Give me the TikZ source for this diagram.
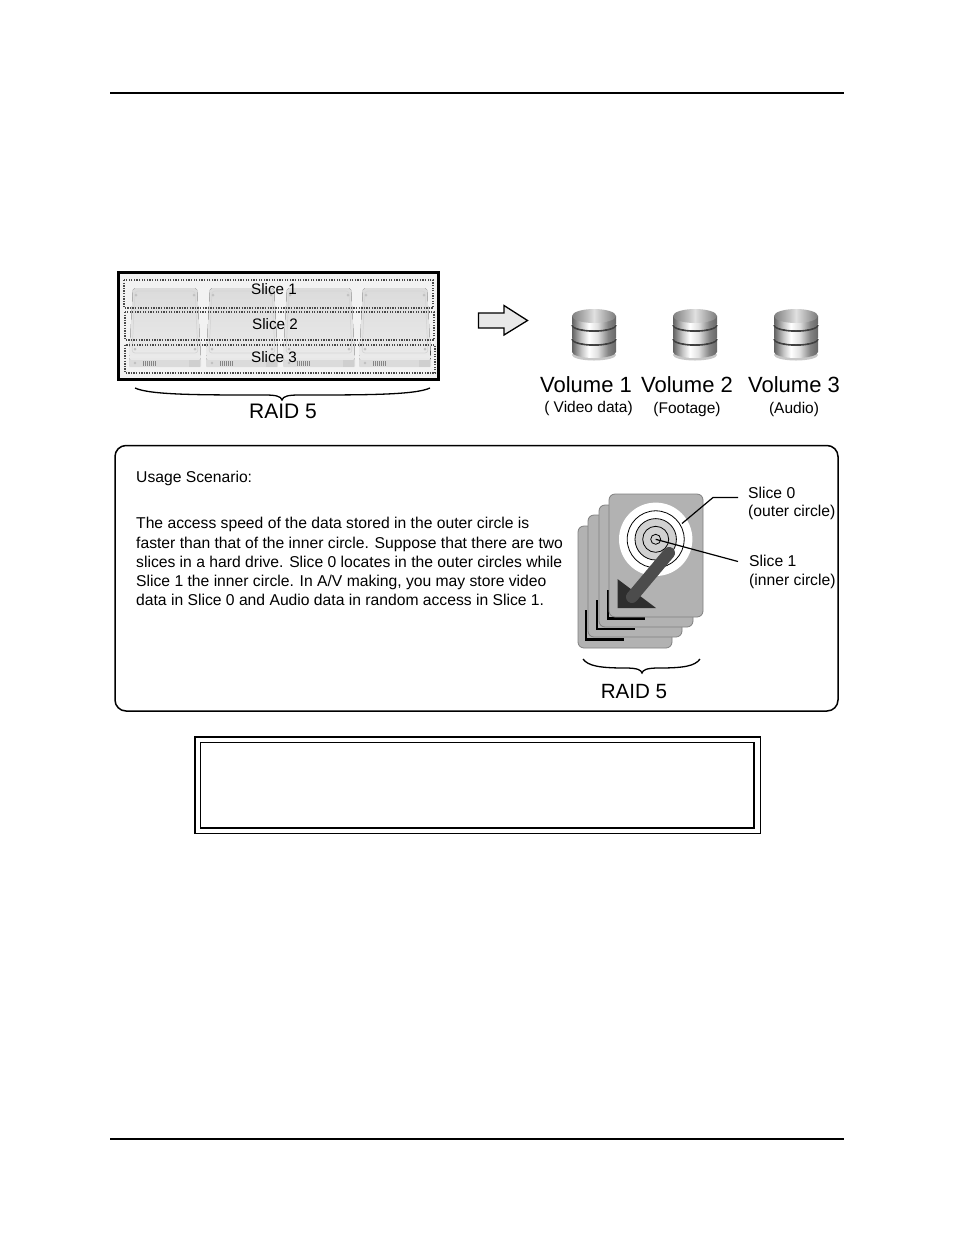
\documentclass[tikz,border=0pt]{standalone}
\usepackage{fontspec}
\setmainfont{Liberation Sans}
\usetikzlibrary{decorations.pathreplacing}
\definecolor{diskgray}{HTML}{B2B2B2}
\definecolor{panelgray}{HTML}{F2F2F2}
\pgfdeclarehorizontalshading{metal}{100bp}{color(0bp)=(black!62); color(25bp)=(black!62); color(36bp)=(black!22); color(44bp)=(white); color(54bp)=(black!12); color(66bp)=(black!48); color(75bp)=(black!60); color(100bp)=(black!60)}
\pgfdeclarehorizontalshading{metaltop}{100bp}{color(0bp)=(black!50); color(25bp)=(black!50); color(42bp)=(black!25); color(50bp)=(black!12); color(60bp)=(black!28); color(75bp)=(black!52); color(100bp)=(black!52)}
\tikzset{
  txt/.style={inner sep=0pt,anchor=base west,font=\fontsize{15.68}{18}\selectfont},
  lbl/.style={inner sep=0pt,anchor=base west,font=\fontsize{15.7}{17}\selectfont},
  vol/.style={inner sep=0pt,anchor=base,font=\fontsize{22}{24}\selectfont},
  sub/.style={inner sep=0pt,anchor=base,font=\fontsize{15.5}{17}\selectfont},
  slice/.style={inner sep=0pt,anchor=base,font=\fontsize{15.2}{18}\selectfont},
  raid/.style={inner sep=0pt,anchor=base,font=\fontsize{21}{24}\selectfont},
  dots/.style={draw=black!72,line width=1.5pt,dash pattern=on 1.3pt off 1.3pt},
  card/.style={draw=black!50,line width=.8pt,fill=diskgray,rounded corners=6pt},
  bracket/.style={draw=black,line width=1.3pt},
  ell/.style={line width=2.4pt,line join=miter},
  ring/.style={line width=.8pt}
}
\newcommand{\drive}[1]{%
  \fill[top color=black!14,bottom color=black!8,rounded corners=2pt] (#1+4,288) -- (#1+68,288) -- (#1+72,360) -- (#1,360) -- cycle;
  \draw[black!16,line width=.7pt,rounded corners=3pt] (#1+6,291) -- (#1+66,291) -- (#1+69,353) -- (#1+3,353) -- cycle;
  \fill[black!14,rounded corners=1pt] (#1,359) rectangle (#1+72,367);
  \fill[black!9] (#1+2,358) rectangle (#1+70,360);
  \fill[black!19] (#1+60,360) rectangle (#1+71,367);
  \foreach \q in {14,16,18,20,22,24,26}{\draw[black!48,line width=.6pt] (#1+\q,361) -- (#1+\q,365.5);}
  \fill[black!25] (#1+6,363) circle (1.3);
  \foreach \p/\r in {7/295,65/295,6/349,66/349}{\fill[black!24] (#1+\p,\r) circle (1.5);}
}
\newcommand{\cyl}[1]{%
  \fill[black!22] (#1,355) ellipse (22 and 5.5);
  \shade[shading=metal] (#1-22,339) -- (#1-22,352) arc (180:0:22 and 6) -- (#1+22,339) -- cycle;
  \draw[black!75,line width=1.8pt] (#1-22,339) arc (180:0:22 and 6);
  \shade[shading=metal] (#1-22,325) -- (#1-22,338) arc (180:0:22 and 6) -- (#1+22,325) -- cycle;
  \draw[black!75,line width=1.8pt] (#1-22,325) arc (180:0:22 and 6);
  \shade[shading=metal] (#1-22,316) -- (#1-22,324) arc (180:0:22 and 6) -- (#1+22,316) -- cycle;
  \shade[shading=metaltop] (#1,316) ellipse (22 and 7);
}
\begin{document}
\begin{tikzpicture}[x=1pt,y=-1pt]
\useasboundingbox (0,0) rectangle (954,1235);
\fill[white] (0,0) rectangle (954,1235);
% page rules
\coordinate (ruleTopL) at (110,93); \coordinate (ruleTopR) at (844,93);
\coordinate (ruleBotL) at (110,1139); \coordinate (ruleBotR) at (844,1139);
\draw[line width=1.8pt] (ruleTopL) -- (ruleTopR);
\draw[line width=1.8pt] (ruleBotL) -- (ruleBotR);
% RAID panel
\fill[panelgray] (120,274) rectangle (437,378);
\drive{129}\drive{206}\drive{283}\drive{359}
\draw[line width=2.4pt] (118.5,272.5) rectangle (438.5,379.5);
\draw[dots] (124,280) rectangle (433,308);
\draw[dots] (125,312) rectangle (434,340);
\draw[dots] (125,345) rectangle (435,373);
\node[slice] (s1) at (274,294.5) {Slice 1};
\node[slice] (s2) at (275,329.5) {Slice 2};
\node[slice] (s3) at (274,362) {Slice 3};
% brace
\draw[bracket] (135,388) .. controls (150,395) and (200,395) .. (265,395) .. controls (275,395) and (281,396) .. (282,400) .. controls (283,396) and (289,395) .. (299,395) .. controls (365,395) and (415,395) .. (430,388);
\node[raid] (r1) at (283,418) {RAID 5};
% arrow
\draw[fill=black!9,line width=1.3pt,line join=miter] (478.5,313) -- (504,313) -- (504,305.5) -- (527.5,320.5) -- (504,335) -- (504,328) -- (478.5,328) -- cycle;
% cylinders
\cyl{594}\cyl{695}\cyl{796}
\node[vol] (v1) at (586,392) {Volume 1};
\node[vol] (v2) at (687,392) {Volume 2};
\node[vol] (v3) at (794,392) {Volume 3};
\node[sub] (d1) at (588.5,412.5) {( Video data)};
\node[sub] (d2) at (687,413.5) {(Footage)};
\node[sub] (d3) at (794,413.5) {(Audio)};
% scenario panel
\draw[line width=1.5pt,rounded corners=11pt] (115,445.5) rectangle (838,711);
\node[txt] (t0) at (136,482) {Usage Scenario:};
\node[txt] (t1) at (136,528.5) {The access speed of the data stored in the outer circle is};
\node[txt] (t2) at (136,548) {faster than that of the inner circle. Suppose that there are two};
\node[txt] (t3) at (136,567) {slices in a hard drive. Slice 0 locates in the outer circles while};
\node[txt] (t4) at (136,586) {Slice 1 the inner circle. In A/V making, you may store video};
\node[txt] (t5) at (136,605) {data in Slice 0 and Audio data in random access in Slice 1.};
% disks
\draw[card] (578,526) rectangle (672,648);
\draw[ell] (586,610) -- (586,639.5) -- (624,639.5);
\draw[card] (588,515) rectangle (682,637);
\draw[ell] (597,600) -- (597,629) -- (635,629);
\draw[card] (599,505) rectangle (693,627);
\draw[ell] (608,590) -- (608,618.5) -- (645,618.5);
\draw[card] (609,494) rectangle (703,617);
\fill[white] (655.7,539.3) circle (36.7);
\fill[black!18] (655.7,539.3) circle (20.7);
\draw[ring] (655.7,539.3) circle (28.5);
\draw[ring] (655.7,539.3) circle (20.7);
\draw[ring] (655.7,539.3) circle (13);
\draw[ring] (655.7,539.3) circle (5);
\fill[black!82] (617.5,579) -- (656,608) -- (617.5,608) -- cycle;
\draw[black!70,line width=12pt,line cap=round] (632,597) -- (669,553);
\coordinate (hub) at (655.7,539.3);
\coordinate (s0a) at (682,523.5);
\coordinate (s0b) at (713,497.5);
\coordinate (s0c) at (738,497.5);
\coordinate (s1c) at (738,561.5);
\draw[line width=1.2pt] (s0a) -- (s0b) -- (s0c);
\draw[line width=1.2pt] (hub) -- (s1c);
\node[lbl] (l0) at (748,498) {Slice 0};
\node[lbl] (l1) at (748,516) {(outer circle)};
\node[lbl] (l2) at (749,566) {Slice 1};
\node[lbl] (l3) at (749,585) {(inner circle)};
\draw[bracket] (583,659) .. controls (588,666) and (600,668) .. (625,668) .. controls (638,668) and (641,670) .. (642,673) .. controls (643,670) and (646,668) .. (659,668) .. controls (684,668) and (695,666) .. (700,659);
\node[raid,font=\fontsize{20.6}{24}\selectfont] (r2) at (634,698) {RAID 5};
% note box
\draw[line width=2.4pt] (760,737) -- (194.8,737) -- (194.8,834.3);
\draw[line width=1.1pt] (194,833.8) -- (760.5,833.8) -- (760.5,736);
\draw[line width=1.1pt] (754,742.5) -- (200.5,742.5) -- (200.5,828);
\draw[line width=2.4pt] (200,828) -- (754,828) -- (754,742);
\end{tikzpicture}
\end{document}
